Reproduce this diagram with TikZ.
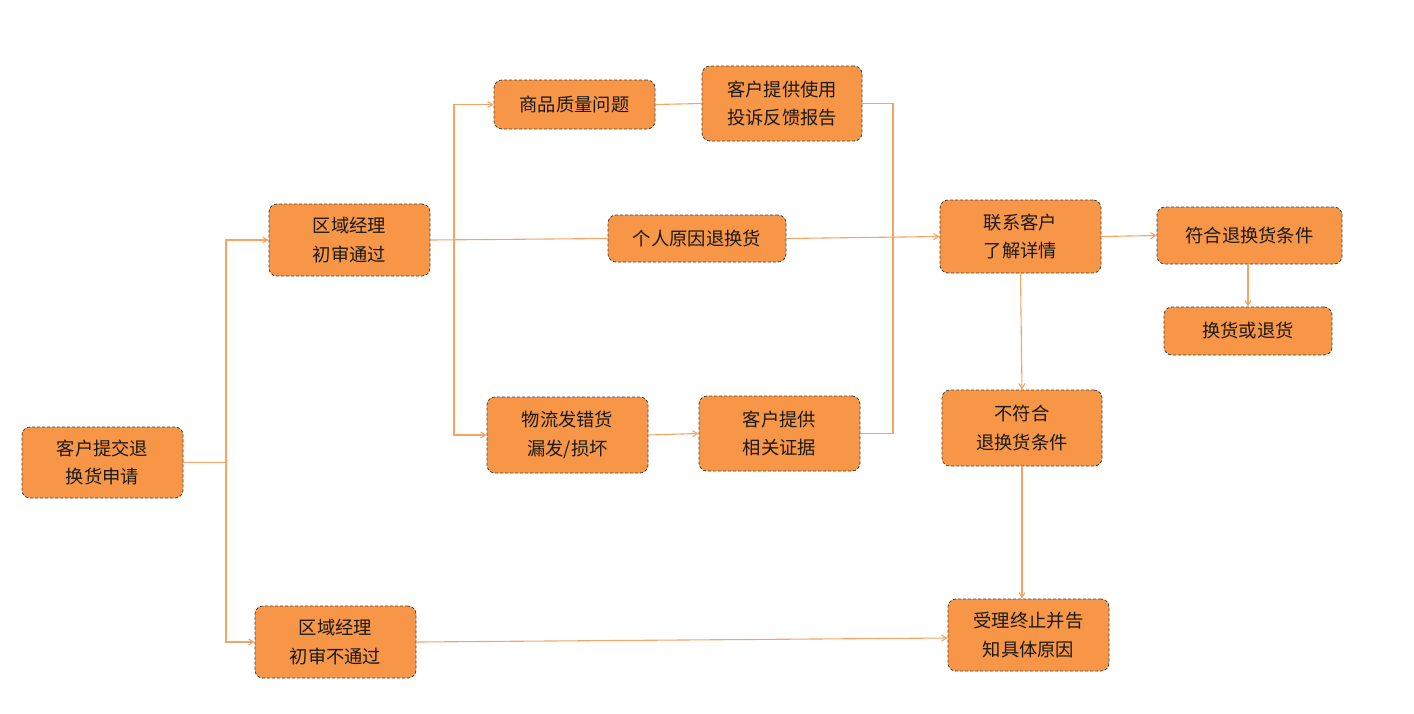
\documentclass[tikz,border=0pt]{standalone}
\usepackage{fontspec}
\newfontfamily\cjk{Noto Sans CJK SC}
\usetikzlibrary{arrows.meta}
\definecolor{boxorange}{HTML}{F79646}
\definecolor{lineorange}{HTML}{F6A465}
\tikzset{
  box/.style={draw=black!75, densely dashed, line width=0.8pt, fill=boxorange, rounded corners=8pt,
    inner sep=0pt, align=center, font=\cjk\fontsize{18.3}{28.5}\selectfont, text=black!90},
  conn/.style={draw=lineorange, line width=1.1pt},
  arr/.style={conn, -{Straight Barb[length=5pt,width=6pt]}}
}
\begin{document}
\begin{tikzpicture}[x=1pt,y=-1pt]
\useasboundingbox (0,0) rectangle (1414,713);
\node[box, minimum width=161pt, minimum height=71pt] (n1) at (102.5,462.5) {客户提交退\\换货申请};
\node[box, minimum width=161pt, minimum height=72pt] (n2) at (349.5,240) {区域经理\\初审通过};
\node[box, minimum width=161pt, minimum height=72pt] (n3) at (335.5,642) {区域经理\\初审不通过};
\node[box, minimum width=161pt, minimum height=49pt] (n4) at (574.5,104.5) {商品质量问题};
\node[box, minimum width=160pt, minimum height=75pt] (n5) at (782,103.5) {客户提供使用\\投诉反馈报告};
\node[box, minimum width=178pt, minimum height=47pt] (n6) at (697,238.5) {个人原因退换货};
\node[box, minimum width=161pt, minimum height=76pt] (n7) at (567.5,435) {物流发错货\\漏发/损坏};
\node[box, minimum width=161pt, minimum height=75pt] (n8) at (779.5,433.5) {客户提供\\相关证据};
\node[box, minimum width=161pt, minimum height=73pt] (n9) at (1020.5,236.5) {联系客户\\了解详情};
\node[box, minimum width=185pt, minimum height=57pt] (n10) at (1249.5,235.5) {符合退换货条件};
\node[box, minimum width=168pt, minimum height=48pt] (n11) at (1248,331) {换货或退货};
\node[box, minimum width=160pt, minimum height=76pt] (n12) at (1022,428) {不符合\\退换货条件};
\node[box, minimum width=161pt, minimum height=72pt] (n13) at (1028.5,635) {受理终止并告\\知具体原因};

\coordinate (j1) at (226,462.5);
\coordinate (j2) at (454,239.5);
\coordinate (j3) at (893,104);

\draw[conn] (n1.east) -- (j1);
\draw[arr] (j1) |- (n2.west);
\draw[arr] (j1) |- (n3.west);
\draw[conn] (n2.east) -- (n6.west);
\draw[arr] (j2) |- (n4.west);
\draw[arr] (j2) |- (n7.west);
\draw[conn] (n4.east) -- (n5.west);
\draw[conn] (n5.east) -- (n5.east -| j3) -- (j3 |- n8.east) -- (n8.east);
\draw[arr] (n7.east) -- (n8.west);
\draw[arr] (n6.east) -- (n9.west);
\draw[arr] (n9.east) -- (n10.west);
\draw[arr] (n10.south -| n11.north) -- (n11.north);
\draw[arr] (n9.south) -- (n12.north);
\draw[arr] (n12.south) -- (n12.south |- n13.north);
\draw[arr] (n3.east) -- ([yshift=-3pt]n13.west);
\end{tikzpicture}
\end{document}
